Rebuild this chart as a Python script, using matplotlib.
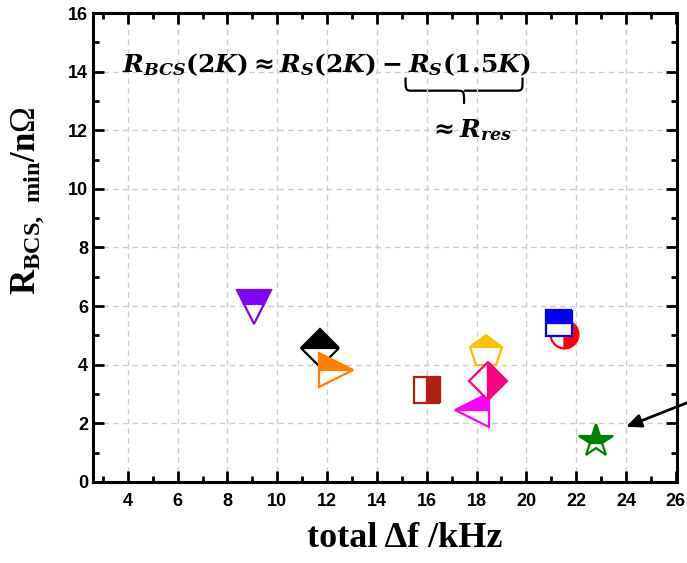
import numpy as np
import matplotlib.pyplot as plt
from matplotlib.path import Path
from matplotlib.patches import PathPatch

plt.rcParams['mathtext.fontset'] = 'custom'
plt.rcParams['mathtext.it'] = 'DejaVu Serif:bold:italic'
plt.rcParams['mathtext.rm'] = 'DejaVu Serif:bold'
plt.rcParams['mathtext.bf'] = 'Liberation Serif:bold'
plt.rcParams['mathtext.sf'] = 'Liberation Serif'

# samples: total frequency shift (kHz) vs minimum BCS resistance (nOhm)
delta_f = [9.05, 11.7, 12.35, 16.0, 18.4, 17.8, 18.45, 21.5, 21.3, 22.8]
r_bcs = [5.97, 4.57, 3.82, 3.15, 4.42, 2.47, 3.45, 5.05, 5.43, 1.4]
markers = ['v', 'D', '>', 's', 'p', '<', 'D', 'o', 's', '*']
colors = ['#8000FF', '#000000', '#FF8000', '#B01E14', '#FFC000',
          '#FF00FF', '#FF0080', '#FF0000', '#0000FF', '#008000']
fills = ['top', 'top', 'top', 'right', 'top', 'top', 'right', 'right', 'top', 'top']
sizes = [24, 19, 24, 19, 24, 24, 19, 20, 19, 25]

fig = plt.figure(figsize=(6.87, 5.63), dpi=100)
ax = fig.add_axes([0.1354, 0.1439, 0.8500, 0.8330])

for x, y, m, c, fs, s in zip(delta_f, r_bcs, markers, colors, fills, sizes):
    ax.plot(x, y, marker=m, color=c, markersize=s, fillstyle=fs,
            markerfacecoloralt='white', markeredgewidth=1.6, linestyle='none')

ax.set_xlim(2.6, 26.05)
ax.set_ylim(0, 16)
ax.set_xticks(np.arange(4, 27, 2))
ax.set_xticks(np.arange(3, 27, 1), minor=True)
ax.set_yticks(np.arange(0, 17, 2))
ax.set_yticks(np.arange(0, 17, 1), minor=True)
ax.grid(True, which='major', linestyle=(0, (4, 3)), color='#cccccc', linewidth=1)

for sp in ax.spines.values():
    sp.set_linewidth(2.2)
ax.tick_params(which='both', direction='in', top=True, right=True, width=2)
ax.tick_params(which='major', length=8)
ax.tick_params(which='minor', length=4)
for lab in ax.get_xticklabels() + ax.get_yticklabels():
    lab.set_family(['Liberation Sans Narrow', 'Liberation Sans'])
    lab.set_fontweight('bold')
    lab.set_fontsize(13)
ax.tick_params(axis='x', pad=8)

ax.set_xlabel('total \u0394f /kHz', family='Liberation Serif', fontweight='bold',
              fontsize=26)
ax.xaxis.set_label_coords(0.533, -0.085)
ax.set_ylabel(r'$\mathbf{R_{BCS,\ min}/n}\mathsf{\Omega}$', fontsize=25)
ax.yaxis.set_label_coords(-0.08, 0.60)

ax.text(3.75, 14.0, r'$R_{BCS}(2K) \approx R_S(2K) - R_S(1.5K)$', fontsize=18,
        ha='left', va='baseline')
ax.text(16.05, 12.0, r'$\approx R_{res}$', fontsize=18, ha='left', va='center')

# curly brace under R_S(1.5K)
x0, x1, xm = 15.15, 19.85, 17.5
yt, ym, yb = 13.8, 13.35, 12.9
verts = [(x0, yt), (x0, ym), (x0, ym), (x0 + 0.3, ym),
         (xm - 0.3, ym), (xm, ym), (xm, ym), (xm, yb),
         (xm, ym), (xm, ym), (xm + 0.3, ym),
         (x1 - 0.3, ym), (x1, ym), (x1, ym), (x1, yt)]
codes = [Path.MOVETO, Path.CURVE4, Path.CURVE4, Path.CURVE4,
         Path.LINETO, Path.CURVE4, Path.CURVE4, Path.CURVE4,
         Path.MOVETO, Path.CURVE4, Path.CURVE4,
         Path.LINETO, Path.CURVE4, Path.CURVE4, Path.CURVE4]
ax.add_patch(PathPatch(Path(verts, codes), fill=False, lw=1.6, color='black'))

ax.annotate('', xy=(23.9, 1.85), xytext=(27.5, 3.05), annotation_clip=False,
            arrowprops=dict(arrowstyle='-|>,head_length=0.9,head_width=0.4',
                            color='black', lw=2))

fig.savefig('out.png', dpi=100)
